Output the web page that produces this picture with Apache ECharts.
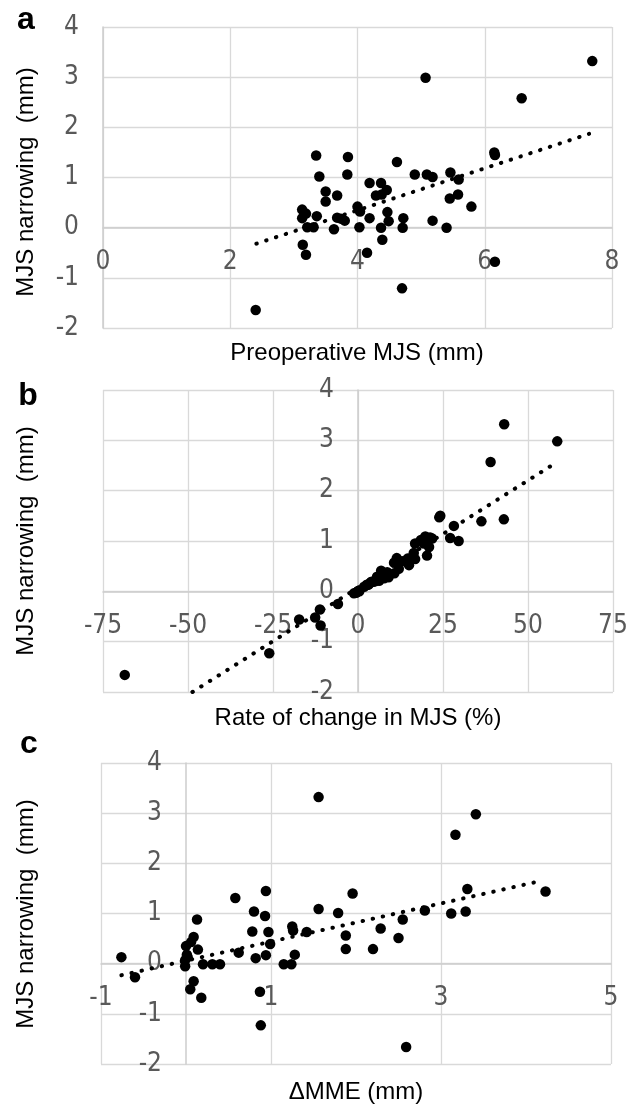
<!DOCTYPE html>
<html>
<head>
<meta charset="utf-8">
<script src="https://cdn.jsdelivr.net/npm/echarts@6/dist/echarts.min.js"></script>
<style>
html,body{margin:0;padding:0;background:#fff;}
#chart{width:641px;height:1106px;}
</style>
</head>
<body>
<div id="chart"></div>
<script>
// Panel a: preoperative MJS (mm) vs MJS narrowing (mm)
const pointsA = [
 [2.40,-1.64],[7.69,3.32],[5.07,2.99],[6.58,2.58],[6.15,1.50],[6.16,1.45],[3.35,1.44],[3.85,1.41],
 [4.62,1.31],[3.40,1.02],[3.84,1.06],[4.90,1.06],[5.09,1.06],[5.18,1.01],[5.46,1.10],[5.59,0.96],
 [4.19,0.89],[4.37,0.89],[4.46,0.75],[4.38,0.66],[4.29,0.64],[3.50,0.72],[3.68,0.64],[3.50,0.52],
 [5.58,0.66],[5.45,0.58],[5.79,0.42],[3.13,0.36],[3.19,0.28],[3.36,0.23],[3.13,0.19],[3.68,0.20],
 [3.74,0.18],[3.80,0.14],[4.00,0.42],[4.04,0.32],[4.47,0.31],[4.19,0.19],[4.49,0.13],[4.72,0.19],
 [5.18,0.14],[3.21,0.01],[3.31,0.01],[3.63,-0.03],[4.03,0.01],[4.37,0.00],[4.71,0.00],[5.40,0.00],
 [3.14,-0.34],[3.19,-0.54],[4.39,-0.24],[4.15,-0.50],[6.16,-0.68],[4.70,-1.21]
];
const trendA = [[2.41,-0.32],[7.64,1.87]];

// Panel b: rate of change in MJS (%) vs MJS narrowing (mm)
const pointsB = [
 [-68.6,-1.66],[43.0,3.32],[58.6,2.98],[39.0,2.57],[23.9,1.47],[24.2,1.50],[42.9,1.43],[36.3,1.39],
 [28.2,1.30],[27.1,1.06],[29.6,1.00],[19.8,1.09],[21.2,1.07],[16.8,0.95],[19.4,0.95],[20.9,0.88],
 [20.3,0.71],[16.4,0.76],[16.8,0.64],[14.6,0.65],[11.4,0.66],[10.6,0.57],[15.0,0.52],[6.8,0.41],
 [8.6,0.38],[10.7,0.36],[5.6,0.29],[7.7,0.26],[6.2,0.21],[3.8,0.18],[2.6,0.13],[1.8,0.09],
 [0.2,0.01],[-1.2,-0.04],[-0.4,-0.02],[-5.9,-0.25],[-11.2,-0.36],[-12.6,-0.52],[-11.0,-0.68],
 [-17.3,-0.56],[-26.1,-1.23],[4.5,0.19],[2.9,0.13],[4.0,0.19],[0.0,0.00],[0.4,0.00],[9.0,0.28],
 [3.2,0.14],[5.0,0.20],[13.0,0.60],[18.5,1.02],[21.8,1.05],[-0.6,-0.03],[12.0,0.45]
];
const trendB = [[-48.7,-2.0],[58.6,2.57]];

// Panel c: ΔMME (mm) vs MJS narrowing (mm)
const pointsC = [
 [-0.76,0.13],[-0.60,-0.27],[1.56,3.32],[3.41,2.98],[3.17,2.57],[4.23,1.44],[3.31,1.49],[1.96,1.40],
 [0.94,1.45],[0.58,1.31],[0.80,1.04],[0.93,0.95],[1.56,1.09],[1.79,1.01],[2.81,1.06],[3.12,1.00],
 [3.29,1.04],[2.55,0.88],[0.13,0.88],[0.78,0.64],[0.97,0.63],[1.25,0.74],[1.26,0.66],[1.42,0.63],
 [2.29,0.70],[1.88,0.56],[2.50,0.51],[0.09,0.53],[0.06,0.43],[0.99,0.39],[0.00,0.35],[0.14,0.28],
 [0.62,0.22],[1.88,0.29],[2.20,0.29],[0.82,0.11],[0.94,0.17],[1.28,0.18],[0.01,0.18],[0.02,0.13],
 [-0.01,0.07],[-0.01,-0.05],[0.20,-0.01],[0.31,-0.01],[0.40,-0.01],[1.15,-0.01],[1.24,-0.01],
 [0.09,-0.35],[0.05,-0.51],[0.18,-0.68],[0.87,-0.56],[0.88,-1.23],[2.59,-1.66]
];
const trendC = [[-0.76,-0.23],[4.18,1.65]];

const xTicksA = {min:0, max:8, interval:2};
const xTicksB = {min:-75, max:75, interval:25};
const xTicksC = {min:-1, max:5, interval:2};
const yTicks = {min:-2, max:4, interval:1};

const panelLetters = ['a','b','c'];
const xTitles = ['Preoperative MJS (mm)','Rate of change in MJS (%)','ΔMME (mm)'];
const yTitle = 'MJS narrowing  (mm)';

const TICK_FONT = '"Liberation Sans Narrow","Arial Narrow","DejaVu Sans Condensed",sans-serif';
const TEXT_FONT = '"Liberation Sans",Arial,sans-serif';
const GRID_COLOR = '#d9d9d9';
const AXIS_COLOR = '#cdcdcd';
const LABEL_COLOR = '#595959';

const gridBoxes = [
  {left:103, top:27, width:509, height:301},
  {left:103, top:390, width:510, height:302},
  {left:101, top:763, width:510, height:301}
];
const xTickSets = [xTicksA, xTicksB, xTicksC];
const grids = gridBoxes.map(g => Object.assign({outerBoundsMode:'none', containLabel:false}, g));

// place axes where the other axis is 0 (axes cross at the origin)
function xOffset(i){
  const g = gridBoxes[i];
  return -g.height * (0 - yTicks.min) / (yTicks.max - yTicks.min);
}
function yOffset(i){
  const g = gridBoxes[i], t = xTickSets[i];
  return -g.width * (0 - t.min) / (t.max - t.min);
}

function xAxis(idx){
  const t = xTickSets[idx];
  return {
    type:'value', gridIndex:idx, min:t.min, max:t.max, interval:t.interval,
    position:'bottom', offset:xOffset(idx),
    axisLine:{show:true, onZero:false, lineStyle:{color:AXIS_COLOR, width:1.5}},
    axisTick:{show:false},
    axisLabel:{show:true, color:LABEL_COLOR, fontSize:26, fontFamily:TICK_FONT, margin:22,
      showMinLabel:true, showMaxLabel:true, hideOverlap:false},
    splitLine:{show:true, lineStyle:{color:GRID_COLOR, width:1.3}}
  };
}
function yAxis(idx){
  return {
    type:'value', gridIndex:idx, min:yTicks.min, max:yTicks.max, interval:yTicks.interval,
    position:'left', offset:yOffset(idx),
    axisLine:{show:true, onZero:false, lineStyle:{color:AXIS_COLOR, width:1.5}},
    axisTick:{show:false},
    axisLabel:{show:true, color:LABEL_COLOR, fontSize:26, fontFamily:TICK_FONT, margin:24,
      showMinLabel:true, showMaxLabel:true, hideOverlap:false},
    splitLine:{show:true, lineStyle:{color:GRID_COLOR, width:1.3}}
  };
}

function scatter(idx, data){
  return {type:'scatter', xAxisIndex:idx, yAxisIndex:idx, data:data, symbolSize:10.5,
    itemStyle:{color:'#000', opacity:1}, z:3, silent:true};
}
function trend(idx, data){
  return {type:'line', xAxisIndex:idx, yAxisIndex:idx, data:data, symbol:'none', z:2, silent:true,
    lineStyle:{color:'#000', width:4, type:[0.5,9.8], cap:'round'}};
}

const yTitlePos = [[26,182],[26,541],[26,914]];
const xTitlePos = [[357,353],[358,718],[356,1092]];
const letterPos = [[26,20],[28,396],[29,744]];

const graphics = [];
for(let i=0;i<3;i++){
  graphics.push({type:'text', x:letterPos[i][0], y:letterPos[i][1],
    style:{text:panelLetters[i], font:'bold 32px '+TEXT_FONT, fill:'#000', textAlign:'center', textVerticalAlign:'middle'}});
  graphics.push({type:'text', x:yTitlePos[i][0], y:yTitlePos[i][1], rotation:Math.PI/2,
    style:{text:yTitle, font:'24px '+TEXT_FONT, fill:'#000', textAlign:'center', textVerticalAlign:'middle'}});
  graphics.push({type:'text', x:xTitlePos[i][0], y:xTitlePos[i][1],
    style:{text:xTitles[i], font:'24px '+TEXT_FONT, fill:'#000', textAlign:'center', textVerticalAlign:'middle'}});
}

const chart = echarts.init(document.getElementById('chart'), null, {renderer:'canvas'});
chart.setOption({
  animation:false,
  backgroundColor:'#fff',
  grid: grids,
  xAxis: [xAxis(0), xAxis(1), xAxis(2)],
  yAxis: [yAxis(0), yAxis(1), yAxis(2)],
  series: [trend(0,trendA), scatter(0,pointsA), trend(1,trendB), scatter(1,pointsB), trend(2,trendC), scatter(2,pointsC)],
  graphic: graphics
});
</script>
</body>
</html>
